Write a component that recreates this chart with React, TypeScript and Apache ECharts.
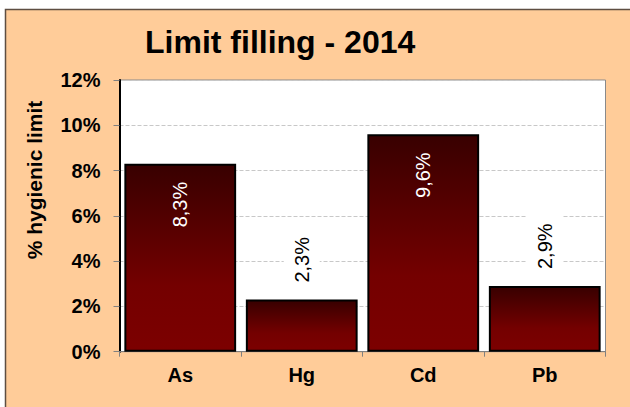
import React, { useEffect, useRef } from "react";
import * as echarts from "echarts";

const categories = ["As", "Hg", "Cd", "Pb"];
const values = [8.3, 2.3, 9.6, 2.9];
const insideFlags = [true, false, true, false];
const yTicks = [0, 2, 4, 6, 8, 10, 12];
const titleText = "Limit filling - 2014";
const yAxisName = "% hygienic limit";

const FONT = "'Liberation Sans', Arial, sans-serif";

export default function App() {
  const ref = useRef<HTMLDivElement>(null);
  useEffect(() => {
    document.body.style.margin = "0";
    if (!ref.current) return;
    const chart = echarts.init(ref.current, undefined, { renderer: "svg" });
    const gradient = new echarts.graphic.LinearGradient(0, 0, 0, 1, [
      { offset: 0, color: "#380000" },
      { offset: 0.65, color: "#740000" },
      { offset: 1, color: "#7c0000" },
    ]);
    const data = values.map((v, i) => {
      const inside = insideFlags[i];
      return {
        value: v,
        label: inside
          ? {
              position: "insideTop",
              distance: 18,
              rotate: 90,
              align: "right",
              verticalAlign: "middle",
              color: "#ffffff",
            }
          : {
              position: "top",
              distance: 9,
              rotate: 90,
              align: "left",
              verticalAlign: "middle",
              color: "#000000",
              backgroundColor: "#ffffff",
              padding: [8, 8, 8, 8],
            },
      };
    });
    chart.setOption({
      animation: false,
      backgroundColor: "#ffffff",
      graphic: [
        {
          type: "rect",
          z: -10,
          silent: true,
          shape: { x: 5.5, y: 9.5, width: 640, height: 420 },
          style: { fill: "#ffcc99", stroke: "#5e4e42", lineWidth: 1.5 },
        },
        {
          type: "text",
          x: 34,
          y: 180,
          rotation: Math.PI / 2,
          style: {
            text: yAxisName,
            fontFamily: FONT,
            fontWeight: "bold",
            fontSize: 21,
            fill: "#000",
            align: "center",
            verticalAlign: "middle",
          },
        },
      ],
      title: {
        text: titleText,
        left: 145,
        top: 26,
        padding: 0,
        textStyle: {
          fontFamily: FONT,
          fontWeight: "bold",
          fontSize: 32,
          color: "#000",
        },
      },
      grid: {
        left: 119.5,
        right: 24.5,
        top: 80,
        bottom: 55.3,
        show: true,
        backgroundColor: "#ffffff",
        borderColor: "#8a8a8a",
        borderWidth: 1,
      },
      xAxis: {
        type: "category",
        data: categories,
        axisLine: { lineStyle: { color: "#808080", width: 1 } },
        axisTick: { show: true, length: 5, lineStyle: { color: "#808080" } },
        axisLabel: {
          margin: 13,
          fontFamily: FONT,
          fontWeight: "bold",
          fontSize: 20,
          color: "#000",
        },
      },
      yAxis: {
        type: "value",
        min: yTicks[0],
        max: yTicks[yTicks.length - 1],
        interval: 2,
        axisLine: { show: true, lineStyle: { color: "#000", width: 2 } },
        axisTick: { show: true, length: 6, lineStyle: { color: "#808080" } },
        axisLabel: {
          margin: 19,
          formatter: "{value}%",
          fontFamily: FONT,
          fontWeight: "bold",
          fontSize: 20,
          color: "#000",
        },
        splitLine: {
          show: true,
          lineStyle: { color: "#c8c8c8", type: [4, 2], width: 1 },
        },
      },
      series: [
        {
          type: "bar",
          data,
          barCategoryGap: "8%",
          itemStyle: { color: gradient, borderColor: "#000", borderWidth: 2 },
          label: {
            show: true,
            formatter: (p: any) => String(p.value).replace(".", ",") + "%",
            fontFamily: FONT,
            fontSize: 20,
          },
        },
      ],
    });
    return () => chart.dispose();
  }, []);
  return <div ref={ref} style={{ width: 630, height: 407 }} />;
}
